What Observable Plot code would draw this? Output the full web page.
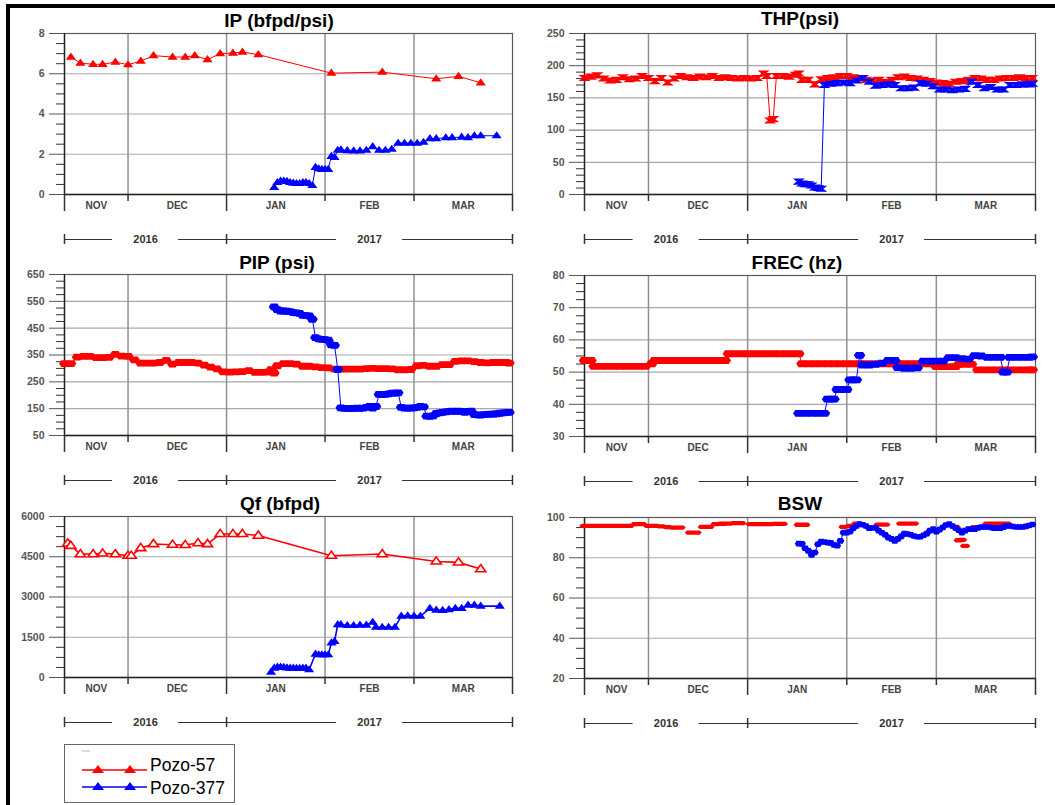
<!DOCTYPE html>
<html><head><meta charset="utf-8">
<script src="https://cdn.jsdelivr.net/npm/d3@7"></script>
<script src="https://cdn.jsdelivr.net/npm/@observablehq/plot@0.6"></script>
<style>
body{margin:0;background:#fff;font-family:"Liberation Sans",Arial,sans-serif;}
#root{position:relative;width:1055px;height:805px;overflow:hidden;background:#fff;}
#frameL{position:absolute;left:6px;top:4px;width:1100px;height:900px;border-left:4px solid #000;border-top:4px solid #000;}
.title{position:absolute;font-weight:bold;font-size:19px;line-height:1;transform:translate(-50%,-50%);white-space:nowrap;color:#000;}
.panel{position:absolute;}
#legend{position:absolute;left:64px;top:744px;width:171px;height:59px;border:1px solid #666;box-sizing:border-box;background:#fff;}
</style></head>
<body><div id="root"><div id="frameL"></div></div>
<script>
// ---------- data ----------
const monthLabels = ["NOV","DEC","JAN","FEB","MAR"];
const monthBounds = ["11-11","12-01","01-01","02-01","03-01","04-01"];
const yearLabels = ["2016","2017"];
const yearBounds = ["11-11","01-01","04-01"];
const seriesNames = ["Pozo-57","Pozo-377"];

const ip57 = [["11-13",6.83],["11-16",6.53],["11-20",6.47],["11-23",6.47],["11-27",6.58],["12-01",6.45],["12-05",6.63],["12-09",6.9],["12-15",6.83],["12-19",6.83],["12-22",6.9],["12-26",6.7],["12-30",7.0],["01-03",7.03],["01-06",7.08],["01-11",6.95],["02-03",6.03],["02-19",6.08],["03-08",5.75],["03-15",5.87],["03-22",5.55]];
const ip377 = [["01-16",0.35],["01-17",0.6],["01-18",0.67],["01-19",0.67],["01-20",0.65],["01-21",0.6],["01-22",0.57],["01-23",0.55],["01-24",0.55],["01-25",0.6],["01-26",0.6],["01-27",0.55],["01-28",0.45],["01-29",1.35],["01-30",1.28],["01-31",1.25],["02-01",1.25],["02-02",1.25],["02-03",1.9],["02-04",1.85],["02-05",2.2],["02-06",2.22],["02-08",2.18],["02-10",2.17],["02-12",2.17],["02-14",2.2],["02-16",2.38],["02-18",2.2],["02-20",2.2],["02-22",2.25],["02-24",2.55],["02-26",2.55],["02-28",2.55],["03-02",2.55],["03-04",2.6],["03-06",2.78],["03-08",2.78],["03-11",2.82],["03-13",2.83],["03-16",2.85],["03-18",2.83],["03-20",2.92],["03-22",2.92],["03-27",2.92]];

const thp57 = [["11-11",181],["11-13",183],["11-15",185],["11-17",180],["11-19",177],["11-21",178],["11-23",182],["11-25",179],["11-27",180],["11-29",184],["12-01",181],["12-03",176],["12-05",181],["12-07",174],["12-09",180],["12-11",184],["12-13",182],["12-15",181],["12-17",183],["12-19",182],["12-21",184],["12-23",181],["12-25",182],["12-27",181],["12-29",180],["12-31",181],["01-02",180],["01-04",181],["01-06",188],["01-07",184],["01-08",115],["01-09",117],["01-10",184],["01-12",184],["01-14",183],["01-16",186],["01-17",188],["01-18",178],["01-20",178],["01-22",171],["01-24",179],["01-26",181],["01-28",182],["01-30",184],["02-01",184],["02-03",182],["02-05",180],["02-07",178],["02-09",177],["02-11",178],["02-13",175],["02-15",178],["02-17",182],["02-19",183],["02-21",181],["02-23",180],["02-25",178],["02-27",176],["03-01",174],["03-03",173],["03-05",172],["03-07",175],["03-09",176],["03-11",178],["03-13",181],["03-15",180],["03-17",178],["03-19",178],["03-21",180],["03-23",181],["03-25",181],["03-27",182],["03-29",181],["03-31",181]];
const thp377 = [["01-17",20],["01-18",17],["01-19",16],["01-20",16],["01-21",14],["01-22",11],["01-23",10],["01-24",9],["01-25",170],["01-27",172],["01-29",173],["01-31",174],["02-02",173],["02-04",177],["02-06",181],["02-08",175],["02-10",169],["02-12",170],["02-14",171],["02-16",170],["02-18",165],["02-20",165],["02-22",166],["02-24",173],["02-26",172],["02-28",168],["03-02",163],["03-04",163],["03-06",162],["03-08",163],["03-10",164],["03-12",175],["03-14",170],["03-16",165],["03-18",167],["03-20",163],["03-22",163],["03-24",170],["03-26",170],["03-28",171],["03-30",171],["03-31",172]];

const pip57 = [["11-11",318],["11-13",318],["11-15",342],["11-17",345],["11-19",345],["11-21",340],["11-23",340],["11-25",341],["11-27",352],["11-29",346],["12-01",345],["12-03",332],["12-05",320],["12-07",320],["12-09",320],["12-11",322],["12-13",330],["12-15",316],["12-17",322],["12-19",322],["12-21",322],["12-23",320],["12-25",312],["12-27",305],["12-29",298],["12-31",287],["01-02",286],["01-04",287],["01-06",288],["01-08",292],["01-10",285],["01-12",285],["01-14",286],["01-15",295],["01-16",283],["01-17",310],["01-19",318],["01-21",318],["01-23",316],["01-25",308],["01-27",308],["01-29",306],["01-31",303],["02-02",302],["02-04",297],["02-06",297],["02-08",297],["02-10",297],["02-12",297],["02-14",299],["02-16",300],["02-18",299],["02-20",299],["02-22",298],["02-24",295],["02-26",295],["02-28",296],["03-02",310],["03-04",311],["03-06",308],["03-08",308],["03-10",314],["03-12",314],["03-14",326],["03-16",328],["03-18",328],["03-20",325],["03-22",322],["03-24",321],["03-26",322],["03-28",322],["03-30",322],["03-31",320]];
const pip377 = [["01-16",529],["01-17",519],["01-18",514],["01-19",514],["01-20",513],["01-21",512],["01-22",508],["01-23",507],["01-24",505],["01-25",498],["01-26",497],["01-27",496],["01-28",483],["01-29",415],["01-30",410],["01-31",408],["02-01",407],["02-02",405],["02-03",388],["02-04",386],["02-05",296],["02-06",153],["02-07",151],["02-08",151],["02-09",150],["02-10",151],["02-11",152],["02-12",151],["02-13",152],["02-14",155],["02-15",158],["02-16",152],["02-17",158],["02-18",203],["02-19",202],["02-20",203],["02-21",205],["02-22",208],["02-23",208],["02-24",209],["02-25",155],["02-26",152],["02-27",152],["02-28",152],["03-01",153],["03-02",155],["03-03",158],["03-04",157],["03-05",122],["03-06",121],["03-07",123],["03-08",132],["03-09",134],["03-10",136],["03-11",138],["03-12",140],["03-13",141],["03-14",140],["03-15",141],["03-16",140],["03-17",136],["03-18",140],["03-19",141],["03-20",128],["03-21",127],["03-22",126],["03-23",128],["03-24",129],["03-25",130],["03-26",130],["03-27",131],["03-28",133],["03-29",134],["03-30",135],["03-31",136]];

const frec57 = [["11-11",53.6],["11-13",53.6],["11-14",51.8],["11-16",51.8],["11-18",51.8],["11-20",51.8],["11-22",51.8],["11-24",51.8],["11-26",51.8],["11-28",51.8],["11-30",51.8],["12-02",52.6],["12-03",53.6],["12-05",53.6],["12-07",53.6],["12-09",53.6],["12-11",53.6],["12-13",53.6],["12-15",53.6],["12-17",53.6],["12-19",53.6],["12-21",53.6],["12-23",53.6],["12-25",53.6],["12-26",55.7],["12-28",55.7],["12-30",55.7],["01-01",55.7],["01-03",55.7],["01-05",55.7],["01-07",55.7],["01-09",55.7],["01-11",55.7],["01-13",55.7],["01-15",55.7],["01-17",55.7],["01-18",52.6],["01-20",52.6],["01-22",52.6],["01-24",52.6],["01-26",52.6],["01-28",52.6],["01-30",52.6],["02-01",52.6],["02-03",52.6],["02-05",52.6],["02-07",52.6],["02-09",52.6],["02-11",52.6],["02-13",52.6],["02-15",52.6],["02-17",52.6],["02-19",52.6],["02-21",52.6],["02-23",52.6],["02-25",52.6],["02-27",52.6],["03-01",51.7],["03-03",51.7],["03-05",51.7],["03-07",51.7],["03-08",52.4],["03-10",52.4],["03-12",52.4],["03-14",50.7],["03-16",50.7],["03-18",50.7],["03-20",50.7],["03-22",50.7],["03-24",50.7],["03-26",50.7],["03-28",50.7],["03-30",50.7],["03-31",50.7]];
const frec377 = [["01-17",37.2],["01-19",37.2],["01-21",37.2],["01-23",37.2],["01-25",37.2],["01-26",41.6],["01-27",41.6],["01-28",41.6],["01-29",44.6],["01-30",44.6],["01-31",44.6],["02-01",44.6],["02-02",47.6],["02-03",47.6],["02-04",47.6],["02-05",55.2],["02-06",52.2],["02-08",52.2],["02-10",52.4],["02-12",52.8],["02-14",53.6],["02-16",53.6],["02-17",51.4],["02-19",51.2],["02-21",51.2],["02-23",51.3],["02-25",53.4],["02-27",53.4],["03-01",53.4],["03-03",53.4],["03-05",54.5],["03-07",54.5],["03-09",54.2],["03-11",54.0],["03-13",55.1],["03-15",55.0],["03-17",54.6],["03-19",54.6],["03-21",54.6],["03-22",50.0],["03-23",50.0],["03-24",54.6],["03-26",54.6],["03-28",54.6],["03-30",54.6],["03-31",54.7]];

const qf57 = [["11-12",5000],["11-13",4910],["11-16",4600],["11-20",4600],["11-23",4625],["11-27",4600],["12-01",4540],["12-02",4540],["12-05",4825],["12-09",4975],["12-15",4950],["12-19",4940],["12-23",5010],["12-26",4975],["12-30",5350],["01-03",5350],["01-06",5350],["01-11",5290],["02-03",4540],["02-19",4600],["03-08",4325],["03-15",4290],["03-22",4040]];
const qf377 = [["01-15",200],["01-16",350],["01-17",390],["01-18",390],["01-19",380],["01-20",360],["01-21",350],["01-22",350],["01-23",345],["01-24",340],["01-25",350],["01-26",350],["01-27",290],["01-29",875],["01-30",850],["01-31",850],["02-01",850],["02-02",850],["02-03",1290],["02-04",1350],["02-05",1975],["02-06",1975],["02-08",1940],["02-10",1940],["02-12",1950],["02-14",1950],["02-16",2060],["02-17",1875],["02-19",1875],["02-21",1875],["02-23",1875],["02-25",2290],["02-27",2300],["03-01",2290],["03-03",2290],["03-06",2575],["03-08",2510],["03-10",2500],["03-12",2530],["03-14",2575],["03-16",2575],["03-18",2700],["03-20",2700],["03-22",2660],["03-28",2660]];

const bsw57 = [["11-11",95.8],["11-13",95.8],["11-15",95.8],["11-17",95.8],["11-19",95.8],["11-21",95.8],["11-23",95.8],["11-25",95.8],["11-27",96.7],["11-29",96.7],["12-01",95.8],["12-03",95.8],["12-05",95.6],["12-07",95.2],["12-09",95.0],["12-11",95.0],["12-14",92.5],["12-16",92.5],["12-18",95.3],["12-20",95.3],["12-22",96.7],["12-24",96.9],["12-26",97.0],["12-28",97.2],["12-30",97.2],["01-02",96.7],["01-04",96.7],["01-06",96.7],["01-08",96.7],["01-10",96.8],["01-12",96.8],["01-17",96.4],["01-19",96.4],["01-31",95.3],["02-02",95.8],["02-04",97.0],["02-11",96.5],["02-13",96.5],["02-18",97.0],["02-20",97.0],["02-22",97.0],["03-07",95.3],["03-08",88.7],["03-09",88.9],["03-10",85.9],["03-13",95.2],["03-15",95.2],["03-17",97.0],["03-19",97.0],["03-21",97.0],["03-23",97.0]];
const bsw377 = [["01-17",87.0],["01-18",86.9],["01-19",84.7],["01-20",83.4],["01-21",81.4],["01-22",82.6],["01-23",86.7],["01-24",88.0],["01-25",87.8],["01-26",87.5],["01-27",87.4],["01-28",86.4],["01-29",86.0],["01-30",88.4],["01-31",92.5],["02-01",92.5],["02-02",93.0],["02-03",94.7],["02-04",95.8],["02-05",96.7],["02-06",96.4],["02-07",95.8],["02-08",94.7],["02-09",94.8],["02-10",95.0],["02-11",93.4],["02-12",92.4],["02-13",91.4],["02-14",90.0],["02-15",89.4],["02-16",88.4],["02-17",89.4],["02-18",90.6],["02-19",92.0],["02-20",91.8],["02-21",91.4],["02-22",90.8],["02-23",90.4],["02-24",90.4],["02-25",91.2],["02-26",92.0],["02-27",93.5],["02-28",94.2],["03-01",93.0],["03-02",94.0],["03-03",95.0],["03-04",96.3],["03-05",96.7],["03-06",95.8],["03-07",94.8],["03-08",93.7],["03-09",92.5],["03-10",93.5],["03-11",94.2],["03-12",94.2],["03-13",94.2],["03-14",94.8],["03-15",95.3],["03-16",95.3],["03-17",95.3],["03-18",95.0],["03-19",94.7],["03-20",94.7],["03-21",94.7],["03-22",95.2],["03-23",95.8],["03-24",95.8],["03-25",95.5],["03-26",95.3],["03-27",95.3],["03-28",95.3],["03-29",95.6],["03-30",96.0],["03-31",96.5]];

const ipTicks = [0,2,4,6,8], ipMinor = [0.5,1,1.5,2.5,3,3.5,4.5,5,5.5,6.5,7,7.5];
const thpTicks = [0,50,100,150,200,250], thpMinor = [10,20,30,40,60,70,80,90,110,120,130,140,160,170,180,190,210,220,230,240];
const pipTicks = [50,150,250,350,450,550,650], pipMinor = [75,100,125,175,200,225,275,300,325,375,400,425,475,500,525,575,600,625];
const frecTicks = [30,40,50,60,70,80], frecMinor = [32.5,35,37.5,42.5,45,47.5,52.5,55,57.5,62.5,65,67.5,72.5,75,77.5];
const qfTicks = [0,1500,3000,4500,6000], qfMinor = [375,750,1125,1875,2250,2625,3375,3750,4125,4875,5250,5625];
const bswTicks = [20,40,60,80,100], bswMinor = [25,30,35,45,50,55,65,70,75,85,90,95];

// ---------- helpers ----------
const md = s => { const [m, d] = s.split("-").map(Number); return new Date(Date.UTC(m >= 11 ? 2016 : 2017, m - 1, d)); };
const RED = "#ff0000", BLUE = "#0000ff";
const FONT = "'Liberation Sans', Arial, sans-serif";
const symR = size => Math.sqrt(size / Math.PI);
const flatTri = {draw(c, size){ const r = symR(size); c.moveTo(0, -1.3*r); c.lineTo(1.45*r, 0.75*r); c.lineTo(-1.45*r, 0.75*r); c.closePath(); }};
const wideHex = (a, b) => ({draw(c, size){ const r = symR(size); const w = a*r, h = b*r, k = Math.min(h, w*0.4);
  c.moveTo(-w, 0); c.lineTo(-w + k, -h); c.lineTo(w - k, -h); c.lineTo(w, 0); c.lineTo(w - k, h); c.lineTo(-w + k, h); c.closePath(); }});
const hourglass = {draw(c, size){ const r = symR(size); const w = 1.9*r, h = 0.95*r;
  c.moveTo(-w, -h); c.lineTo(w, -h); c.lineTo(0.35*w, 0); c.lineTo(w, h); c.lineTo(-w, h); c.lineTo(-0.35*w, 0); c.closePath(); }};

const X0 = md(monthBounds[0]), X1 = md(monthBounds[monthBounds.length - 1]);
const root = document.getElementById("root");

function series(data, color, sym, r, opts = {}) {
  const X = d => md(d[0]), Y = d => d[1];
  const out = [];
  if (opts.line !== false) out.push(Plot.line(data, {x: X, y: Y, stroke: color, strokeWidth: opts.lw || 1}));
  out.push(Plot.dot(data, {x: X, y: Y, symbol: sym, r, fill: opts.fill || color, stroke: opts.stroke || "none", strokeWidth: opts.sw || 0}));
  return out;
}

function panel({col, plotTop, yDomain, yMajor, yMinor, title, titleX, titleY, marks}) {
  const W = col === 0 ? 527 : 528, ML = col === 0 ? 64 : 57, MR = col === 0 ? 15 : 20;
  const MT = 10, PH = 161, MB = 55;
  const [y0, y1] = yDomain;
  const yAt = off => y0 - off / PH * (y1 - y0);
  const msPerPx = (X1 - X0) / (W - ML - MR);
  const gap = 33 * msPerPx;
  const monthMid = monthLabels.map((t, i) => new Date((+md(monthBounds[i]) + +md(monthBounds[i + 1])) / 2));
  const yearMid = yearLabels.map((t, i) => new Date((+md(yearBounds[i]) + +md(yearBounds[i + 1])) / 2));
  const yearSegs = [];
  yearLabels.forEach((t, i) => {
    yearSegs.push([md(yearBounds[i]), new Date(+yearMid[i] - gap)]);
    yearSegs.push([new Date(+yearMid[i] + gap), md(yearBounds[i + 1])]);
  });
  const inner = monthBounds.slice(1, -1);
  const longB = yearBounds;
  const shortB = inner.filter(b => !longB.includes(b));
  const svg = Plot.plot({
    width: W, height: MT + PH + MB,
    marginLeft: ML, marginRight: MR, marginTop: MT, marginBottom: MB,
    x: {type: "utc", domain: [X0, X1], axis: null},
    y: {domain: yDomain},
    style: {fontFamily: FONT, background: "transparent", overflow: "visible"},
    marks: [
      Plot.ruleY(yMajor, {stroke: "#a8a8a8", strokeWidth: 1.2}),
      Plot.ruleX(inner, {x: md, stroke: "#909090", strokeWidth: 1.5}),
      Plot.frame({stroke: "#5a5a5a", strokeWidth: 1.2}),
      Plot.ruleX([X0], {stroke: "#222", strokeWidth: 1.4}),
      Plot.ruleY([y0], {stroke: "#222", strokeWidth: 1.4}),
      Plot.axisY(yMajor, {tickSize: 15, tickPadding: 5, tickFormat: d => String(d), fontSize: 10.5, fontWeight: "bold", color: "#555", label: null}),
      Plot.axisY(yMinor, {tickSize: 8, tickFormat: () => "", color: "#333", label: null}),
      Plot.ruleX(shortB, {x: md, y1: yAt(0), y2: yAt(7), stroke: "#333", strokeWidth: 1.5}),
      Plot.ruleX(longB, {x: md, y1: yAt(0), y2: yAt(17), stroke: "#333", strokeWidth: 1.5}),
      Plot.text(monthLabels, {x: (d, i) => monthMid[i], y: yAt(11), text: d => d, fontSize: 10, fontWeight: "bold", fill: "#444"}),
      Plot.ruleY(yearSegs, {y: yAt(45), x1: d => d[0], x2: d => d[1], stroke: "#333", strokeWidth: 1.2}),
      Plot.ruleX(longB, {x: md, y1: yAt(40), y2: yAt(50), stroke: "#333", strokeWidth: 1.5}),
      Plot.text(yearLabels, {x: (d, i) => yearMid[i], y: yAt(45), text: d => d, fontSize: 11, fontWeight: "bold", fill: "#333"}),
      ...marks
    ]
  });
  const div = document.createElement("div");
  div.className = "panel";
  div.style.left = (col === 0 ? 0 : 527) + "px";
  div.style.top = (plotTop - MT) + "px";
  div.appendChild(svg);
  root.appendChild(div);
  const t = document.createElement("div");
  t.className = "title"; t.textContent = title;
  t.style.left = titleX + "px"; t.style.top = titleY + "px";
  root.appendChild(t);
}

panel({col: 0, plotTop: 33, yDomain: [0, 8], yMajor: ipTicks, yMinor: ipMinor, title: "IP (bfpd/psi)", titleX: 279, titleY: 20,
  marks: [...series(ip57, RED, flatTri, 3.5), ...series(ip377, BLUE, flatTri, 3.5)]});
panel({col: 1, plotTop: 33, yDomain: [0, 250], yMajor: thpTicks, yMinor: thpMinor, title: "THP(psi)", titleX: 800, titleY: 18,
  marks: [...series(thp57, RED, hourglass, 3.2), ...series(thp377, BLUE, hourglass, 3.2)]});
panel({col: 0, plotTop: 274, yDomain: [50, 650], yMajor: pipTicks, yMinor: pipMinor, title: "PIP (psi)", titleX: 277, titleY: 262,
  marks: [...series(pip57, RED, wideHex(1.6, 1.0), 3.4), ...series(pip377, BLUE, wideHex(1.6, 1.0), 3.4)]});
panel({col: 1, plotTop: 275, yDomain: [30, 80], yMajor: frecTicks, yMinor: frecMinor, title: "FREC (hz)", titleX: 797, titleY: 262,
  marks: [...series(frec57, RED, wideHex(1.7, 1.0), 3.4), ...series(frec377, BLUE, wideHex(1.7, 1.0), 3.4)]});
panel({col: 0, plotTop: 516, yDomain: [0, 6000], yMajor: qfTicks, yMinor: qfMinor, title: "Qf (bfpd)", titleX: 280, titleY: 503,
  marks: [...series(qf57, RED, flatTri, 3.5, {lw: 1.6, fill: "#fff", stroke: RED, sw: 1.6}), ...series(qf377, BLUE, flatTri, 3.5, {lw: 1.6})]});
panel({col: 1, plotTop: 517, yDomain: [20, 100], yMajor: bswTicks, yMinor: bswMinor, title: "BSW", titleX: 800, titleY: 503,
  marks: [...series(bsw57, RED, wideHex(2.2, 0.9), 2.4, {line: false}), ...series(bsw377, BLUE, wideHex(1.4, 1.0), 2.8)]});

// ---------- legend ----------
const leg = document.createElement("div");
leg.id = "legend";
const colors = [RED, BLUE];
const ys = [25, 42];
let s = `<svg width="171" height="59" style="position:absolute;left:0;top:0">`;
s += `<line x1="17" x2="25" y1="6" y2="6" stroke="#bbb" stroke-width="1"/>`;
seriesNames.forEach((n, i) => {
  const y = ys[i], c = colors[i];
  s += `<line x1="17" x2="82" y1="${y}" y2="${y}" stroke="${c}" stroke-width="1.4"/>`;
  [33, 65].forEach(x => { s += `<path d="M${x},${y - 5} L${x + 6},${y + 3} L${x - 6},${y + 3} Z" fill="${c}"/>`; });
  s += `<text x="85" y="${y + (i === 0 ? 1 : 7)}" font-family="${FONT.replace(/'/g, "")}" font-size="17.5" fill="#000">${n}</text>`;
});
s += `</svg>`;
leg.innerHTML = s;
root.appendChild(leg);
</script>
</body></html>
